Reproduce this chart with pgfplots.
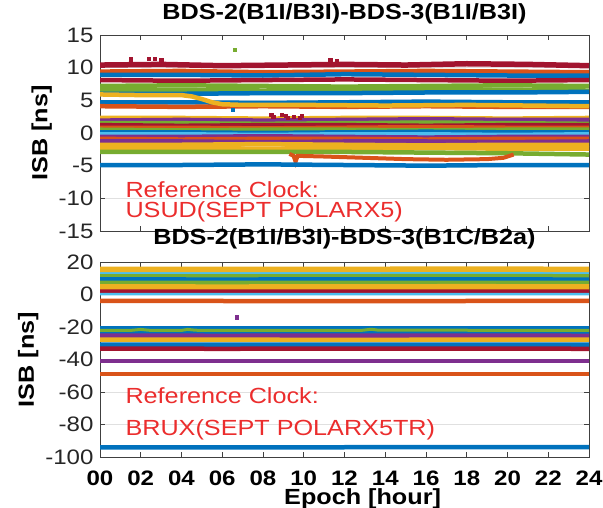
\documentclass[border=0pt]{standalone}
\usepackage{fontspec}
\setmainfont{Liberation Sans}[FakeStretch=1.15]
\usepackage{pgfplots}
\pgfplotsset{compat=1.18}
\definecolor{mb}{RGB}{0,114,189}
\definecolor{mo}{RGB}{217,83,25}
\definecolor{my}{RGB}{237,177,32}
\definecolor{mp}{RGB}{126,47,142}
\definecolor{mg}{RGB}{119,172,48}
\definecolor{mc}{RGB}{77,190,238}
\definecolor{mr}{RGB}{162,20,47}
\definecolor{reftxt}{RGB}{235,45,45}
\pgfplotsset{
  isb/.style={
    scale only axis, width=489bp,
    xmin=0, xmax=24, xtick={0,2,...,24},
    tick align=inside, tick pos=both,
    major tick length=5bp,
    ymajorgrids, grid style={black!12, line width=0.7bp},
    axis line style={black!75, line width=0.8bp},
    tick style={black!75, line width=0.8bp},
    /pgf/number format/assume math mode=true,
    yticklabel style={font=\fontsize{21}{21}\selectfont, text=black!85, xshift=-3bp},
    xticklabel style={font=\fontsize{21}{21}\selectfont\bfseries, text=black, inner sep=0pt, yshift=-14bp},
    title style={font=\fontsize{22}{24}\selectfont\bfseries, at={(0.5,1)}, anchor=base},
    ylabel style={font=\fontsize{22}{24}\selectfont\bfseries},
  },
  ln/.style={line width=4.5bp, no marks},
  dot/.style={only marks, mark=square*, mark size=1.6bp},
}
\begin{document}
\begin{tikzpicture}
\useasboundingbox (0,0) rectangle (603bp,508bp);
% ---------------- top axis ----------------
\begin{axis}[isb, at={(100bp,277bp)}, anchor=south west, height=196bp,
  ymin=-15, ymax=15, ytick={-15,-10,...,15},
  xticklabels={},
  title={BDS-2(B1I/B3I)-BDS-3(B1I/B3I)}, title style={yshift=10bp},
  ylabel={ISB [ns]}]
\addplot[ln,mr,line width=5.5bp] coordinates {(0,10.4)(3,10.5)(6,10.3)(9,10.4)(12,10.5)(15,10.4)(18,10.6)(21,10.5)(24,10.3)};
\addplot[ln,mo] coordinates {(0,9.4)(4,9.5)(8,9.3)(12,9.4)(16,9.5)(20,9.4)(24,9.3)};
\addplot[ln,mb] coordinates {(0,8.9)(4,8.9)(8,8.8)(12,9.0)(16,8.9)(20,8.8)(24,8.8)};
\addplot[ln,mr] coordinates {(0,8.1)(4,8.0)(8,8.1)(12,8.2)(16,8.1)(20,8.0)(24,8.1)};
\addplot[ln,mg] coordinates {(0,7.2)(4,7.3)(8,7.2)(12,7.1)(16,7.2)(20,7.3)(24,7.2)};
\addplot[ln,mg] coordinates {(0,6.6)(4,6.6)(8,6.5)(12,6.6)(16,6.7)(20,6.6)(24,6.5)};
\addplot[ln,mb] coordinates {(0,6.0)(4,6.0)(8,6.1)(12,6.1)(16,6.2)(20,6.2)(24,6.3)};
\addplot[ln,mb] coordinates {(0,4.7)(4,4.7)(8,4.6)(12,4.7)(16,4.8)(20,4.7)(24,4.7)};
\addplot[ln,mo] coordinates {(0,4.1)(4,4.0)(8,4.1)(12,4.0)(16,4.1)(20,4.0)(24,4.0)};
\addplot[ln,my] coordinates {(0,5.9)(2,5.8)(4,5.8)(4.5,5.6)(5,5.2)(5.5,4.7)(6,4.4)(7,4.3)(10,4.3)(14,4.2)(18,4.3)(24,4.1)};
\addplot[ln,my] coordinates {(0,2.3)(4,2.3)(8,2.2)(12,2.3)(16,2.3)(20,2.2)(24,2.3)};
\addplot[ln,mp] coordinates {(0,1.9)(4,2.0)(8,1.9)(12,2.0)(16,2.1)(20,2.0)(24,2.0)};
\addplot[ln,mg] coordinates {(0,1.5)(4,1.5)(8,1.4)(12,1.5)(16,1.6)(20,1.5)(24,1.4)};
\addplot[ln,mr] coordinates {(0,1.2)(4,1.1)(8,1.2)(12,1.2)(16,1.1)(20,1.2)(24,1.2)};
\addplot[ln,mo] coordinates {(0,0.8)(4,0.8)(8,0.7)(12,0.8)(16,0.9)(20,0.8)(24,0.8)};
\addplot[ln,mg] coordinates {(0,0.5)(4,0.4)(8,0.5)(12,0.5)(16,0.4)(20,0.5)(24,0.5)};
\addplot[ln,mb] coordinates {(0,0.1)(4,0.1)(8,0.0)(12,0.1)(16,0.2)(20,0.1)(24,0.1)};
\addplot[ln,mc] coordinates {(0,-0.2)(4,-0.2)(8,-0.3)(12,-0.2)(16,-0.2)(20,-0.3)(24,-0.2)};
\addplot[ln,mp] coordinates {(0,-0.6)(4,-0.6)(8,-0.5)(12,-0.6)(16,-0.7)(20,-0.6)(24,-0.6)};
\addplot[ln,mo] coordinates {(0,-0.9)(4,-1.0)(8,-0.9)(12,-0.9)(16,-1.0)(20,-0.9)(24,-0.9)};
\addplot[ln,mp] coordinates {(0,-1.3)(4,-1.3)(8,-1.4)(12,-1.3)(16,-1.3)(20,-1.4)(24,-1.3)};
\addplot[ln,my] coordinates {(0,-1.8)(4,-1.8)(8,-1.7)(12,-1.8)(16,-1.9)(20,-1.8)(24,-1.8)};
\addplot[ln,my] coordinates {(0,-2.3)(4,-2.3)(8,-2.4)(12,-2.3)(16,-2.3)(20,-2.4)(24,-2.4)};
\addplot[ln,mg] coordinates {(0,-2.9)(4,-2.9)(8,-2.9)(12,-2.9)(16,-3.0)(20,-3.1)(24,-3.3)};
\addplot[ln,mo,line width=4bp] coordinates {(9.3,-3.2)(9.5,-3.5)(9.6,-4.4)(9.7,-3.5)(11,-3.6)(13,-3.8)(15,-4.0)(17,-4.1)(19,-4.0)(19.8,-3.8)(20.3,-3.3)};
\addplot[ln,mb] coordinates {(0,-4.9)(4,-4.9)(8,-4.8)(12,-4.9)(16,-5.0)(20,-4.9)(24,-4.9)};
\addplot[dot,mg] coordinates {(6.6,12.8)};
\addplot[dot,mb] coordinates {(6.5,3.6)};
\addplot[dot,mr] coordinates {(1.5,11.3)(2.4,11.4)(2.7,11.4)(3.0,11.2)(11.3,11.2)(11.6,11.0)
  (8.4,2.8)(8.5,2.5)(8.9,2.8)(9.1,2.6)(9.2,2.3)(9.5,2.5)(9.9,2.7)(9.8,2.4)};
\node[anchor=base west, text=reftxt, font=\fontsize{22}{24}\selectfont] at (axis cs:1.08,-9.8) {Reference Clock:};
\node[anchor=base west, text=reftxt, font=\fontsize{22}{24}\selectfont] at (axis cs:1.08,-13.0) {USUD(SEPT POLARX5)};
\end{axis}
% ---------------- bottom axis ----------------
\begin{axis}[isb, at={(100bp,51bp)}, anchor=south west, height=195bp,
  ymin=-100, ymax=20, ytick={-100,-80,...,20},
  xticklabels={00,02,04,06,08,10,12,14,16,18,20,22,24},
  title={BDS-2(B1I/B3I)-BDS-3(B1C/B2a)}, title style={yshift=12bp},
  ylabel={ISB [ns]},
  xlabel={Epoch [hour]},
  xlabel style={font=\fontsize{22}{24}\selectfont\bfseries, inner sep=0pt, at={(axis description cs:0.537,0)}, anchor=base, yshift=-47bp}]
\addplot[ln,mc] coordinates {(0,13.2)(6,13.3)(12,13.1)(18,13.2)(24,13.2)};
\addplot[ln,mg] coordinates {(0,11.2)(6,11.1)(12,11.2)(18,11.3)(24,11.2)};
\addplot[ln,mb] coordinates {(0,9.3)(6,9.2)(12,9.3)(18,9.3)(24,9.2)};
\addplot[ln,mg] coordinates {(0,7.2)(6,7.1)(12,7.2)(18,7.2)(24,7.1)};
\addplot[ln,my] coordinates {(0,5.0)(6,4.9)(12,5.0)(18,5.1)(24,5.0)};
\addplot[ln,my] coordinates {(0,3.4)(6,3.5)(12,3.4)(18,3.4)(24,3.5)};
\addplot[ln,mr] coordinates {(0,1.8)(6,1.7)(12,1.8)(18,1.8)(24,1.7)};
\addplot[ln,mc,line width=2.5bp] coordinates {(0,0.2)(6,0.3)(12,0.2)(18,0.3)(24,0.2)};
\addplot[ln,my,line width=5.5bp] coordinates {(0,15.5)(6,15.4)(12,15.5)(18,15.6)(24,15.5)};
\addplot[ln,mo] coordinates {(0,-4.0)(6,-4.0)(12,-4.1)(18,-4.0)(24,-4.0)};
\addplot[ln,mb] coordinates {(0,-20.8)(6,-20.8)(12,-20.9)(18,-20.8)(24,-20.8)};
\addplot[ln,mb] coordinates {(0,-23.8)(6,-23.8)(12,-23.9)(18,-23.8)(24,-23.8)};
\addplot[ln,mg,line width=3bp] coordinates {(0,-22.0)(1.5,-22.1)(2,-21.5)(2.4,-22.0)(4,-22.1)(4.3,-21.5)(4.7,-22.0)(12,-22.1)(12.9,-22.0)(13.3,-21.4)(13.7,-22.0)(18,-22.0)(24,-22.1)};
\addplot[ln,mp] coordinates {(0,-25.3)(6,-25.4)(12,-25.3)(18,-25.3)(24,-25.4)};
\addplot[ln,my] coordinates {(0,-27.8)(6,-27.8)(12,-27.9)(18,-27.8)(24,-27.8)};
\addplot[ln,mb] coordinates {(0,-30.8)(6,-30.8)(12,-30.9)(18,-30.8)(24,-30.8)};
\addplot[ln,mr] coordinates {(0,-33.3)(6,-33.4)(12,-33.3)(18,-33.3)(24,-33.4)};
\addplot[ln,mp] coordinates {(0,-41.0)(6,-41.0)(12,-41.0)(18,-41.0)(24,-41.0)};
\addplot[ln,mo] coordinates {(0,-49.0)(6,-49.0)(12,-49.0)(18,-49.0)(24,-49.0)};
\addplot[ln,mb] coordinates {(0,-94.0)(6,-94.1)(12,-94.0)(18,-93.9)(24,-94.0)};
\addplot[dot,mp] coordinates {(6.7,-14)};
\node[anchor=base west, text=reftxt, font=\fontsize{22}{24}\selectfont] at (axis cs:1.08,-66.8) {Reference Clock:};
\node[anchor=base west, text=reftxt, font=\fontsize{22}{24}\selectfont] at (axis cs:1.08,-86.5) {BRUX(SEPT POLARX5TR)};
\end{axis}
\end{tikzpicture}
\end{document}
